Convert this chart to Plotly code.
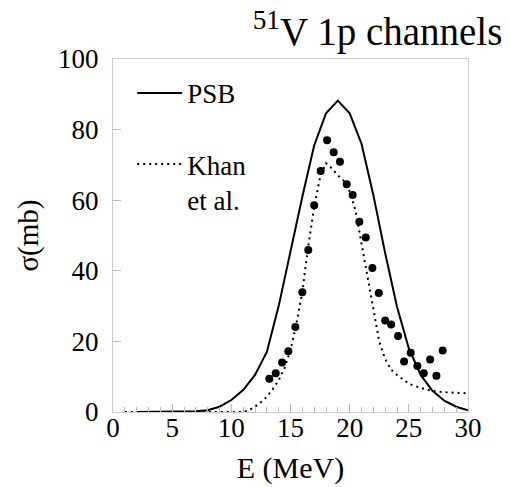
import plotly.graph_objects as go

# PSB calculation (solid)
psb_E = [2, 3, 4, 5, 6, 7, 8, 9, 10, 11, 12, 13, 14, 15, 16, 17, 18, 19, 20, 21, 22, 23, 24, 25, 26, 27, 28, 29, 30]
psb_sigma = [0, 0, 0, 0, 0.05, 0.2, 0.5, 1.5, 3.4, 6.2, 10.5, 17, 30, 46, 61, 75.5, 84.6, 88.2, 84.6, 76, 61.5, 45, 29.8, 18, 10.5, 6, 3.2, 1.5, 0.5]

# Khan et al. (dotted)
khan_E = [1, 2, 4, 6, 8, 10, 11, 11.5, 12, 12.5, 13, 13.5, 14, 14.5, 15, 15.5, 16, 16.5, 17, 17.5, 18, 18.5, 19, 19.5, 20, 20.5, 21, 21.5, 22, 22.5, 23, 23.5, 24, 25, 26, 27, 28, 29, 30]
khan_sigma = [0, 0, 0, 0, 0, 0, 0, 0.5, 1.5, 2.8, 4.3, 6.5, 9, 12.5, 17.5, 25, 34, 47, 58, 66.5, 70.5, 69, 67, 65.5, 62.5, 57, 48, 38.5, 29, 20, 15, 12, 10.5, 8, 6.8, 6, 5.6, 5.4, 5.3]

# Experimental data (dots)
exp_E = [13.21, 13.75, 14.29, 14.82, 15.41, 16.0, 16.5, 17.0, 17.55, 18.09, 18.65, 19.18, 19.75, 20.25, 20.82, 21.36, 21.92, 22.46, 23.0, 23.5, 24.09, 24.6, 25.16, 25.72, 26.26, 26.8, 27.33, 27.86]
exp_sigma = [9.4, 11.0, 14.0, 17.2, 24.1, 33.9, 45.9, 58.6, 68.3, 77.0, 73.6, 70.9, 64.5, 61.5, 53.9, 49.4, 40.8, 33.7, 25.9, 24.8, 21.5, 14.3, 16.8, 13.0, 11.0, 14.9, 10.3, 17.4]

x_ticks = [0, 5, 10, 15, 20, 25, 30]
y_ticks = [0, 20, 40, 60, 80, 100]

FONT = "Liberation Serif, Times New Roman, serif"

fig = go.Figure()
fig.add_trace(go.Scatter(x=psb_E, y=psb_sigma, mode="lines", name="PSB",
                         line=dict(color="black", width=2), legendgroup="a"))
fig.add_trace(go.Scatter(x=khan_E, y=khan_sigma, mode="lines", name="Khan<br>et al.",
                         line=dict(color="black", width=2, dash="2px,4px"), legendgroup="b"))
fig.add_trace(go.Scatter(x=exp_E, y=exp_sigma, mode="markers", showlegend=False,
                         marker=dict(color="black", size=8)))

axis_common = dict(showline=True, linecolor="#cccccc", linewidth=1, mirror=True,
                   showgrid=False, zeroline=False, ticks="inside", tickcolor="#bbbbbb",
                   ticklen=8, automargin=False,
                   tickfont=dict(family=FONT, size=27, color="black"))

fig.update_layout(
    width=510, height=487,
    margin=dict(l=113, r=42, t=59, b=75, autoexpand=False),
    paper_bgcolor="white", plot_bgcolor="white",
    font=dict(family=FONT, color="black"),
    title=dict(text="<sup>51</sup>V 1p channels", xref="container", yref="container",
               x=0.985, xanchor="right", y=0.935, yanchor="middle",
               font=dict(family=FONT, size=39, color="black")),
    xaxis=dict(range=[0, 30], tickvals=x_ticks, ticktext=[str(v) for v in x_ticks],
               title=dict(text="E (MeV)", font=dict(family=FONT, size=30), standoff=14),
               ticklabelstandoff=-8,
               minor=dict(dtick=1, ticks="inside", ticklen=5, tickcolor="#bbbbbb"),
               **axis_common),
    yaxis=dict(range=[0, 100], tickvals=y_ticks, ticktext=[str(v) for v in y_ticks],
               title=dict(text="σ(mb)", font=dict(family=FONT, size=29), standoff=10),
               ticklabelstandoff=8,
               **axis_common),
    showlegend=True,
    legend=dict(x=0.054, y=0.972, xanchor="left", yanchor="top",
                bgcolor="rgba(0,0,0,0)", font=dict(family=FONT, size=27, color="black"),
                traceorder="grouped", tracegroupgap=33, valign="top", itemwidth=45),
)

fig.write_html("out.html")
